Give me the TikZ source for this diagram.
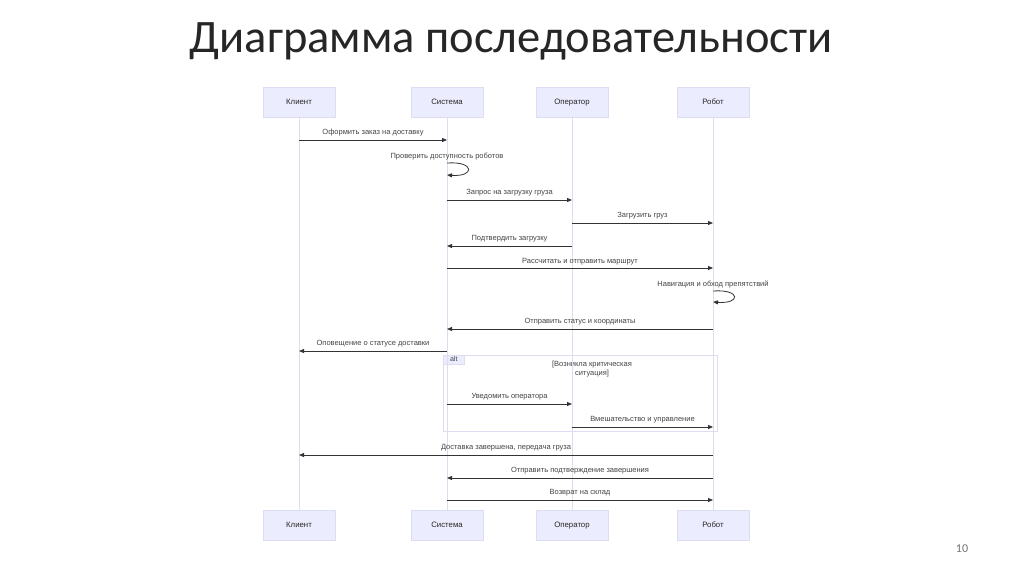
\documentclass[tikz,border=0pt]{standalone}
\usepackage{fontspec}
\setmainfont{Liberation Sans}
\newfontfamily\titlefont{Carlito}
\usetikzlibrary{arrows.meta}
\definecolor{actfill}{HTML}{ECECFF}
\definecolor{actline}{HTML}{DCDCF2}
\definecolor{lifeline}{HTML}{DDDDEE}
\definecolor{msgcol}{HTML}{333333}
\definecolor{txtcol}{HTML}{444444}
\tikzset{
  actor/.style={draw=actline, fill=actfill, minimum width=72pt, minimum height=30pt, inner sep=0pt, font=\fontsize{7.8}{8}\selectfont, text=black!85, text height=5.6pt, text depth=1.6pt},
  life/.style={draw=lifeline, line width=0.9pt},
  msg/.style={draw=msgcol, line width=0.8pt, -{Triangle[length=5pt,width=4pt]}},
  lbl/.style={font=\fontsize{7.5}{9}\selectfont, text=txtcol, inner sep=0pt, text height=5.4pt, text depth=1.6pt, yshift=-1.5pt},
}
\begin{document}
\begin{tikzpicture}[x=1pt,y=-1pt]
\useasboundingbox[fill=white] (0,0) rectangle (1024,574);
\node[font=\titlefont\fontsize{46.5}{50}\selectfont, text=black!85] (title) at (511,41) {Диаграмма последовательности};
\node[font=\titlefont\fontsize{12}{14}\selectfont, text=black!55] (pg) at (962,549) {10};
% actors
\node[actor] (k1) at (299,102) {Клиент};
\node[actor] (s1) at (447,102) {Система};
\node[actor] (o1) at (572,102) {Оператор};
\node[actor] (r1) at (713,102) {Робот};
\node[actor] (k2) at (299,525) {Клиент};
\node[actor] (s2) at (447,525) {Система};
\node[actor] (o2) at (572,525) {Оператор};
\node[actor] (r2) at (713,525) {Робот};
% alt frame
\draw[draw=actline, line width=0.7pt] (443,355) rectangle (717,431);
\node[fill=actfill, draw=actline, line width=0.5pt, anchor=north west, minimum width=21pt, minimum height=9pt, inner sep=0pt, font=\fontsize{7}{8}\selectfont, text=txtcol, text height=5pt, text depth=1pt] (alt) at (443,355) {alt};
\node[lbl, align=center, text height=, text depth=] (cond) at (592,367.5) {[Возникла критическая\\ситуация]};
% lifelines
\draw[life] (k1) -- (k2);
\draw[life] (s1) -- (s2);
\draw[life] (o1) -- (o2);
\draw[life] (r1) -- (r2);
% messages
\draw[msg] (k1 |- 0,140) -- (s1 |- 0,140);
\node[lbl] (m1) at (373,131) {Оформить заказ на доставку};
\node[lbl] (m2) at (447,155) {Проверить доступность роботов};
\draw[msg] (s1 |- 0,163) .. controls (475,161) and (475,177) .. (s1 |- 0,175);
\draw[msg] (s1 |- 0,200) -- (o1 |- 0,200);
\node[lbl] (m3) at (509.5,191) {Запрос на загрузку груза};
\draw[msg] (o1 |- 0,223) -- (r1 |- 0,223);
\node[lbl] (m4) at (642.5,214) {Загрузить груз};
\draw[msg] (o1 |- 0,246) -- (s1 |- 0,246);
\node[lbl] (m5) at (509.5,237) {Подтвердить загрузку};
\draw[msg] (s1 |- 0,268) -- (r1 |- 0,268);
\node[lbl] (m6) at (580,260) {Рассчитать и отправить маршрут};
\node[lbl] (m7) at (713,283) {Навигация и обход препятствий};
\draw[msg] (r1 |- 0,291) .. controls (741,289) and (741,304) .. (r1 |- 0,302);
\draw[msg] (r1 |- 0,329) -- (s1 |- 0,329);
\node[lbl] (m8) at (580,320) {Отправить статус и координаты};
\draw[msg] (s1 |- 0,351) -- (k1 |- 0,351);
\node[lbl] (m9) at (373,342) {Оповещение о статусе доставки};
\draw[msg] (s1 |- 0,404) -- (o1 |- 0,404);
\node[lbl] (m10) at (509.5,395) {Уведомить оператора};
\draw[msg] (o1 |- 0,427) -- (r1 |- 0,427);
\node[lbl] (m11) at (642.5,418) {Вмешательство и управление};
\draw[msg] (r1 |- 0,455) -- (k1 |- 0,455);
\node[lbl] (m12) at (506,446) {Доставка завершена, передача груза};
\draw[msg] (r1 |- 0,478) -- (s1 |- 0,478);
\node[lbl] (m13) at (580,469) {Отправить подтверждение завершения};
\draw[msg] (s1 |- 0,500) -- (r1 |- 0,500);
\node[lbl] (m14) at (580,491) {Возврат на склад};
\end{tikzpicture}
\end{document}
